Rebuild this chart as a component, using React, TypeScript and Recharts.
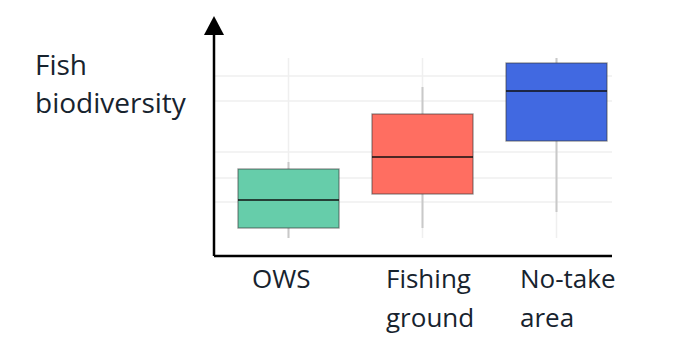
import React from 'react';
import { ComposedChart, Bar, XAxis, YAxis, CartesianGrid } from 'recharts';

const categories = [['OWS'], ['Fishing', 'ground'], ['No-take', 'area']];
const mins = [1.8, 2.8, 4.4];
const q1s = [2.8, 6.2, 11.5];
const medians = [5.6, 9.9, 16.5];
const q3s = [8.7, 14.2, 19.3];
const maxs = [9.4, 16.9, 19.8];
const gridValues = [5.4, 7.8, 10.4, 15.5, 18.0];
const colors = ['#66cdaa', '#ff6e61', '#4169e1'];

const yLabel = ['Fish', 'biodiversity'];

const W = 692;
const H = 358;
const PLOT_LEFT = 214;
const PLOT_RIGHT = 612;
const PLOT_TOP = 35;
const PLOT_BOTTOM = 256;
const X_AXIS_H = 60;
const FIRST_CENTER = 288;
const STEP = 134;
const TEXT = '#17232e';
const FONT = '"Open Sans", sans-serif';

const data = categories.map((c, i) => ({
  pos: i,
  range: [mins[i], maxs[i]],
  min: mins[i],
  q1: q1s[i],
  median: medians[i],
  q3: q3s[i],
  max: maxs[i],
}));

// vertical grid lines span the whole data range (plot area of the original)
const gridTop = Math.max(...maxs);
const gridBottom = Math.min(...mins);

const BoxShape = (props: any) => {
  const { x, y, width, height, payload } = props;
  const k = height / (payload.max - payload.min);
  const yOf = (v: number) => y + (payload.max - v) * k;
  const cx = x + width / 2;
  const top = yOf(payload.q3);
  const bottom = yOf(payload.q1);
  return (
    <g>
      <line x1={cx} x2={cx} y1={yOf(gridTop)} y2={yOf(gridBottom)} stroke="#efefef" strokeWidth={1.5} />
      <line x1={cx} x2={cx} y1={y} y2={y + height} stroke="#c9c9c9" strokeWidth={2} />
      <rect x={x} y={top} width={width} height={bottom - top} fill={colors[payload.pos]} stroke="#3a3a3a" strokeOpacity={0.55} strokeWidth={1.3} />
      <line x1={x} x2={x + width} y1={yOf(payload.median)} y2={yOf(payload.median)} stroke="#111" strokeWidth={1.6} />
    </g>
  );
};

const CategoryTick = (props: any) => {
  const { x, payload } = props;
  const lines = categories[payload.value] || [];
  return (
    <text x={x - 36} y={PLOT_BOTTOM + 32} textAnchor="start" fill={TEXT} fontSize={26} fontFamily={FONT}>
      {lines.map((l, i) => (
        <tspan key={i} x={x - 36} dy={i === 0 ? 0 : 39}>{l}</tspan>
      ))}
    </text>
  );
};

const NoTick = () => <g />;

const AxisDecor = (props: any) => {
  const { viewBox } = props;
  const ax = viewBox.x + viewBox.width;
  const ty = viewBox.y;
  return (
    <g>
      <polygon points={`${ax},${ty - 19} ${ax - 10},${ty} ${ax + 10},${ty}`} fill="#000" />
      <text x={35} y={75} fill={TEXT} fontSize={28} fontFamily={FONT}>
        {yLabel.map((l, i) => (
          <tspan key={i} x={35} dy={i === 0 ? 0 : 38}>{l}</tspan>
        ))}
      </text>
    </g>
  );
};

const xDomain = [(PLOT_LEFT - FIRST_CENTER) / STEP, (PLOT_RIGHT - FIRST_CENTER) / STEP];

export default function App() {
  return (
    <div style={{ position: 'absolute', left: 0, top: 0, width: W, height: H, background: '#fff' }}>
      <ComposedChart
        width={W}
        height={H}
        data={data}
        margin={{ top: PLOT_TOP, right: W - PLOT_RIGHT, bottom: H - PLOT_BOTTOM - X_AXIS_H, left: 0 }}
      >
        <CartesianGrid vertical={false} horizontalValues={gridValues} stroke="#efefef" strokeWidth={1.5} />
        <XAxis
          type="number"
          dataKey="pos"
          domain={xDomain}
          allowDataOverflow
          ticks={[0, 1, 2]}
          height={X_AXIS_H}
          tickLine={false}
          tick={<CategoryTick />}
          axisLine={{ stroke: '#000', strokeWidth: 2.5 }}
        />
        <YAxis
          type="number"
          domain={[0, 22.1]}
          allowDataOverflow
          ticks={gridValues}
          interval={0}
          width={PLOT_LEFT}
          tick={<NoTick />}
          tickLine={false}
          axisLine={{ stroke: '#000', strokeWidth: 2.5 }}
          label={{ content: <AxisDecor /> }}
        />
        <Bar dataKey="range" barSize={101} shape={<BoxShape />} isAnimationActive={false} />
      </ComposedChart>
    </div>
  );
}
